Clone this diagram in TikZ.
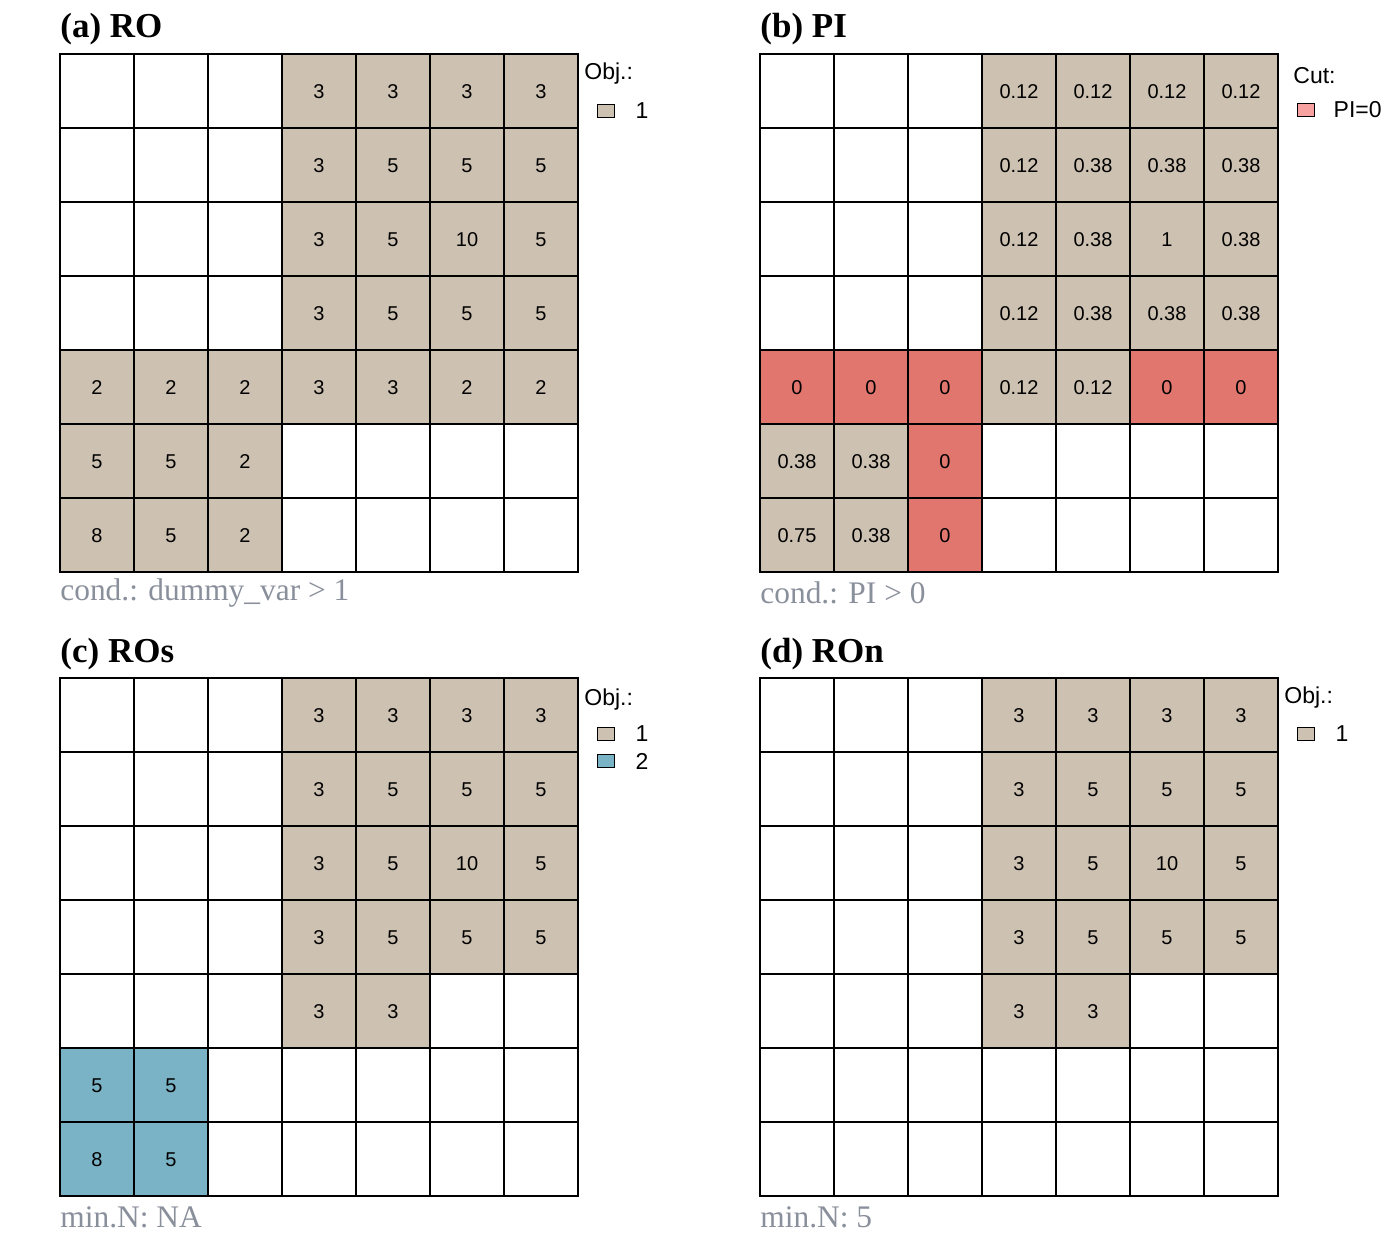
\documentclass[tikz,border=0pt]{standalone}
\usepackage{fontspec}
\setmainfont{Liberation Serif}
\setsansfont{Liberation Sans}
\usetikzlibrary{positioning}

\definecolor{objbeige}{HTML}{CDC1B1}
\definecolor{cutred}{HTML}{E0766D}
\definecolor{cutkey}{HTML}{F8A1A1}
\definecolor{objblue}{HTML}{7AB3C6}
\definecolor{capgray}{HTML}{8A909B}

\tikzset{
  cellval/.style={font=\sffamily\fontsize{10}{12}\selectfont, inner sep=0pt, yshift=-0.5pt},
  paneltitle/.style={anchor=base west, inner sep=0pt, font=\bfseries\fontsize{17.5}{20}\selectfont},
  capnote/.style={anchor=base west, inner sep=0pt, text=capgray, font=\fontsize{15.7}{18}\selectfont},
  legtitle/.style={anchor=west, inner sep=0pt, font=\sffamily\fontsize{11.5}{13}\selectfont},
  legkey/.style={draw, line width=0.8pt, minimum width=8.5pt, minimum height=6.5pt, inner sep=0pt},
  legtext/.style={anchor=west, inner sep=0pt, font=\sffamily\fontsize{11.5}{13}\selectfont},
  gridline/.style={line width=1.15pt, line cap=rect}
}

% one 7x7 raster: name, left, top (px), filled cells col/row/value/colour
\newcommand\rastpanel[4]{%
  \begin{scope}[shift={(#2,#3)}, x={(37pt,0pt)}, y={(0pt,-37pt)}]
    \foreach \c/\r/\v/\f in {#4} {
      \fill[\f] (\c-1,\r-1) rectangle (\c,\r);
      \node[cellval] (#1-\c-\r) at (\c-0.5,\r-0.5) {\v};
    }
    \foreach \i in {0,...,7} {
      \draw[gridline] (\i,0) -- (\i,7);
      \draw[gridline] (0,\i) -- (7,\i);
    }
  \end{scope}}

\begin{document}
\begin{tikzpicture}[x={(0.5pt,0pt)}, y={(0pt,-0.5pt)}]
\useasboundingbox[fill=white] (0,0) rectangle (1400,1248);

% (a) RO
\node[paneltitle] (a-title) at (60,37) {(a) RO};
\rastpanel{a}{60}{54}{4/1/3/objbeige, 5/1/3/objbeige, 6/1/3/objbeige, 7/1/3/objbeige,
  4/2/3/objbeige, 5/2/5/objbeige, 6/2/5/objbeige, 7/2/5/objbeige,
  4/3/3/objbeige, 5/3/5/objbeige, 6/3/10/objbeige, 7/3/5/objbeige,
  4/4/3/objbeige, 5/4/5/objbeige, 6/4/5/objbeige, 7/4/5/objbeige,
  1/5/2/objbeige, 2/5/2/objbeige, 3/5/2/objbeige, 4/5/3/objbeige, 5/5/3/objbeige, 6/5/2/objbeige, 7/5/2/objbeige,
  1/6/5/objbeige, 2/6/5/objbeige, 3/6/2/objbeige,
  1/7/8/objbeige, 2/7/5/objbeige, 3/7/2/objbeige}
\node[capnote] (a-cap) at (60,600) {cond.: dummy\_var > 1};
\node[legtitle] (a-legtitle) at (584,74) {Obj.:};
\node[legkey, fill=objbeige] (a-key1) at (606,111) {};
\node[legtext, right=10pt of a-key1] (a-lab1) {1};

% (b) PI
\node[paneltitle] (b-title) at (760,37) {(b) PI};
\rastpanel{b}{760}{54}{4/1/0.12/objbeige, 5/1/0.12/objbeige, 6/1/0.12/objbeige, 7/1/0.12/objbeige,
  4/2/0.12/objbeige, 5/2/0.38/objbeige, 6/2/0.38/objbeige, 7/2/0.38/objbeige,
  4/3/0.12/objbeige, 5/3/0.38/objbeige, 6/3/1/objbeige, 7/3/0.38/objbeige,
  4/4/0.12/objbeige, 5/4/0.38/objbeige, 6/4/0.38/objbeige, 7/4/0.38/objbeige,
  1/5/0/cutred, 2/5/0/cutred, 3/5/0/cutred, 4/5/0.12/objbeige, 5/5/0.12/objbeige, 6/5/0/cutred, 7/5/0/cutred,
  1/6/0.38/objbeige, 2/6/0.38/objbeige, 3/6/0/cutred,
  1/7/0.75/objbeige, 2/7/0.38/objbeige, 3/7/0/cutred}
\node[capnote] (b-cap) at (760,603) {cond.: PI > 0};
\node[legtitle] (b-legtitle) at (1293,76) {Cut:};
\node[legkey, fill=cutkey] (b-key1) at (1306,110) {};
\node[legtext, right=9pt of b-key1] (b-lab1) {PI=0};

% (c) ROs
\node[paneltitle] (c-title) at (60,662) {(c) ROs};
\rastpanel{c}{60}{678}{4/1/3/objbeige, 5/1/3/objbeige, 6/1/3/objbeige, 7/1/3/objbeige,
  4/2/3/objbeige, 5/2/5/objbeige, 6/2/5/objbeige, 7/2/5/objbeige,
  4/3/3/objbeige, 5/3/5/objbeige, 6/3/10/objbeige, 7/3/5/objbeige,
  4/4/3/objbeige, 5/4/5/objbeige, 6/4/5/objbeige, 7/4/5/objbeige,
  4/5/3/objbeige, 5/5/3/objbeige,
  1/6/5/objblue, 2/6/5/objblue,
  1/7/8/objblue, 2/7/5/objblue}
\node[capnote] (c-cap) at (60,1227) {min.N: NA};
\node[legtitle] (c-legtitle) at (584,700) {Obj.:};
\node[legkey, fill=objbeige] (c-key1) at (606,734) {};
\node[legkey, fill=objblue] (c-key2) at (606,761) {};
\node[legtext, right=10pt of c-key1] (c-lab1) {1};
\node[legtext, right=10pt of c-key2] (c-lab2) {2};

% (d) ROn
\node[paneltitle] (d-title) at (760,662) {(d) ROn};
\rastpanel{d}{760}{678}{4/1/3/objbeige, 5/1/3/objbeige, 6/1/3/objbeige, 7/1/3/objbeige,
  4/2/3/objbeige, 5/2/5/objbeige, 6/2/5/objbeige, 7/2/5/objbeige,
  4/3/3/objbeige, 5/3/5/objbeige, 6/3/10/objbeige, 7/3/5/objbeige,
  4/4/3/objbeige, 5/4/5/objbeige, 6/4/5/objbeige, 7/4/5/objbeige,
  4/5/3/objbeige, 5/5/3/objbeige}
\node[capnote] (d-cap) at (760,1227) {min.N: 5};
\node[legtitle] (d-legtitle) at (1284,698) {Obj.:};
\node[legkey, fill=objbeige] (d-key1) at (1306,734) {};
\node[legtext, right=10pt of d-key1] (d-lab1) {1};
\end{tikzpicture}
\end{document}
